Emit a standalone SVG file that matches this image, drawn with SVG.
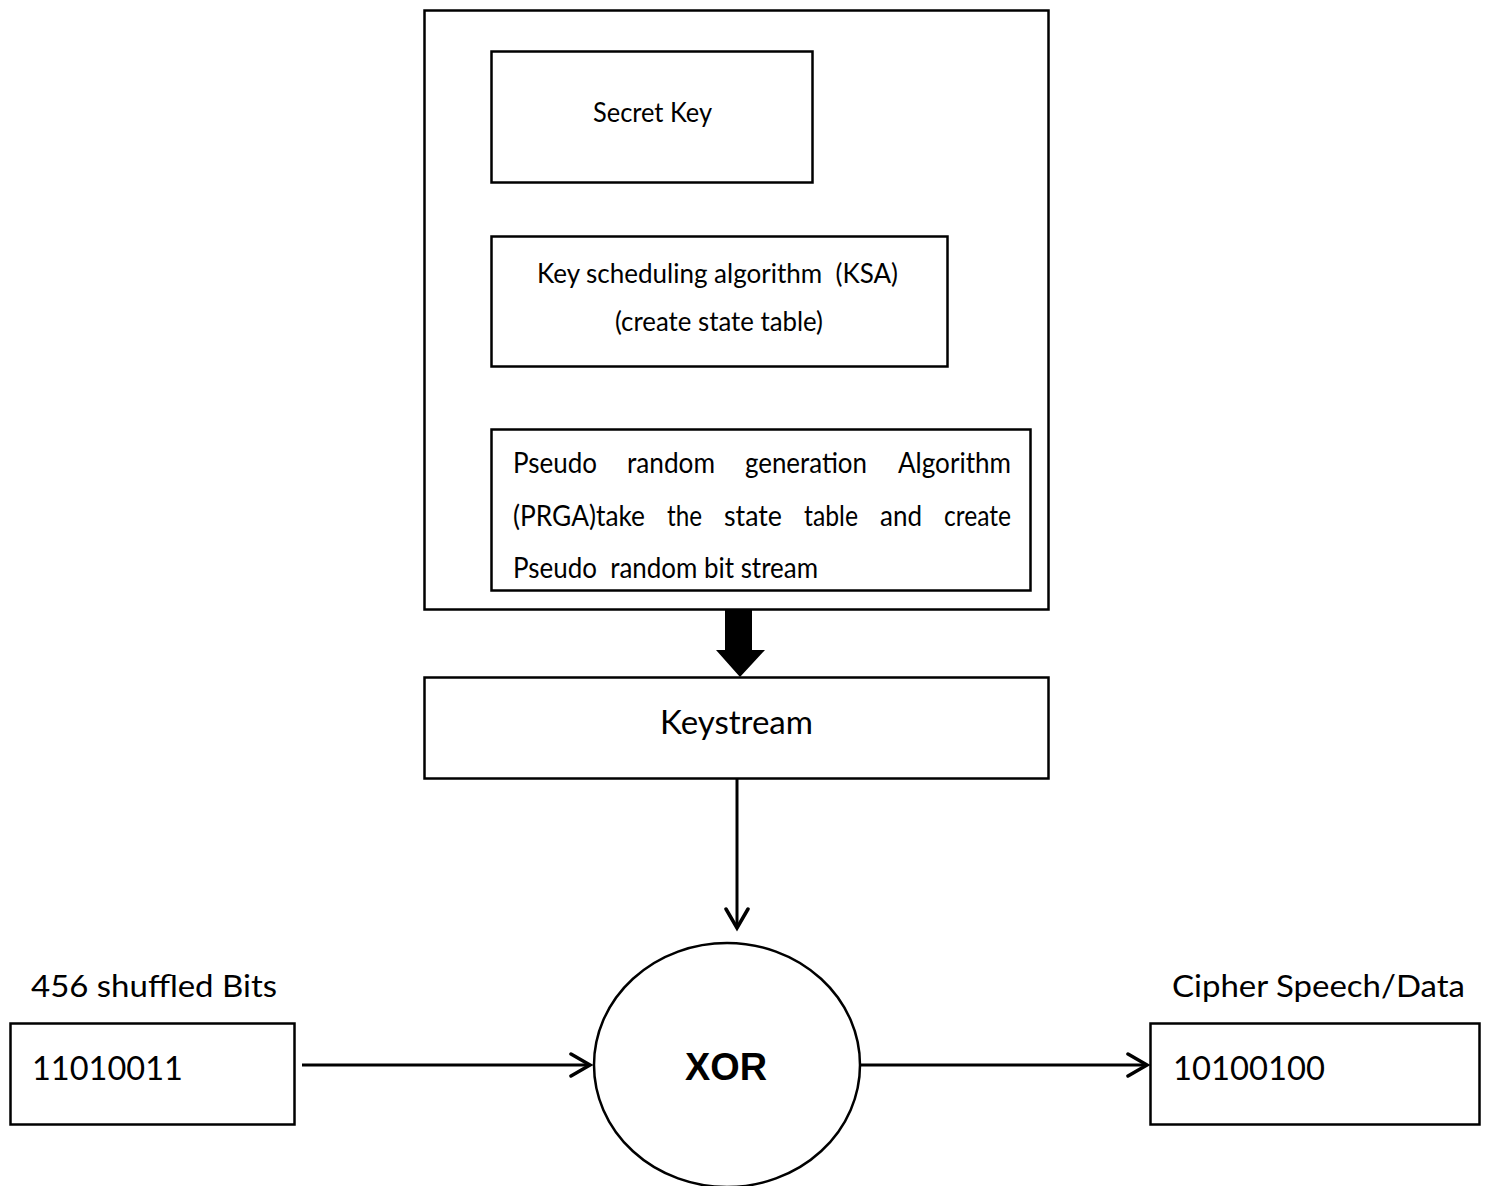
<svg xmlns="http://www.w3.org/2000/svg" width="1486" height="1186" viewBox="0 0 1486 1186">
  <style>
    .box { fill: #fff; stroke: #000; stroke-width: 2.5; }
    .t { font-family: Lato, "Open Sans", "Liberation Sans", sans-serif; fill: #000; }
    .line { stroke: #000; stroke-width: 3; fill: none; }
  </style>
  <defs>
    <marker id="open" markerWidth="26" markerHeight="28" refX="22" refY="13" orient="auto" markerUnits="userSpaceOnUse" viewBox="0 0 26 28">
      <path d="M3,2 L22,13 L3,24" fill="none" stroke="#000" stroke-width="3.5" stroke-linecap="round" stroke-linejoin="miter"/>
    </marker>
  </defs>
  <rect width="1486" height="1186" fill="#fff"/>

  <!-- RC4 generator block -->
  <g id="rc4">
    <rect class="box" x="424.5" y="10.5" width="624" height="599"/>
  </g>
  <g id="secret-key">
    <rect class="box" x="491.5" y="51.5" width="321" height="131"/>
    <text class="t" x="593" y="122" font-size="26" textLength="119" lengthAdjust="spacingAndGlyphs">Secret Key</text>
  </g>
  <g id="ksa">
    <rect class="box" x="491.5" y="236.5" width="456" height="130"/>
    <text class="t" x="537" y="283" font-size="26" textLength="361" lengthAdjust="spacingAndGlyphs" xml:space="preserve">Key scheduling algorithm  (KSA)</text>
    <text class="t" x="615" y="331" font-size="26" textLength="208" lengthAdjust="spacingAndGlyphs">(create state table)</text>
  </g>
  <g id="prga">
    <rect class="box" x="491.5" y="429.5" width="539" height="161"/>
    <!-- justified paragraph: words placed with equal gaps per line -->
    <g class="t" font-size="29">
      <text x="513" y="473" textLength="84" lengthAdjust="spacingAndGlyphs">Pseudo</text>
      <text x="627" y="473" textLength="88" lengthAdjust="spacingAndGlyphs">random</text>
      <text x="745" y="473" textLength="122" lengthAdjust="spacingAndGlyphs">generation</text>
      <text x="898" y="473" textLength="113" lengthAdjust="spacingAndGlyphs">Algorithm</text>
      <text x="513" y="526" textLength="132" lengthAdjust="spacingAndGlyphs">(PRGA)take</text>
      <text x="667" y="526" textLength="35" lengthAdjust="spacingAndGlyphs">the</text>
      <text x="724" y="526" textLength="58" lengthAdjust="spacingAndGlyphs">state</text>
      <text x="804" y="526" textLength="54" lengthAdjust="spacingAndGlyphs">table</text>
      <text x="880" y="526" textLength="42" lengthAdjust="spacingAndGlyphs">and</text>
      <text x="944" y="526" textLength="67" lengthAdjust="spacingAndGlyphs">create</text>
      <text x="513" y="578" textLength="305" lengthAdjust="spacingAndGlyphs" xml:space="preserve">Pseudo  random bit stream</text>
    </g>
  </g>
  <g id="keystream">
    <rect class="box" x="424.5" y="677.5" width="624" height="101"/>
    <text class="t" x="660" y="734" font-size="32" textLength="153" lengthAdjust="spacingAndGlyphs">Keystream</text>
  </g>
  <g id="xor">
    <ellipse cx="727" cy="1065" rx="133" ry="122" fill="#fff" stroke="#000" stroke-width="2.5"/>
    <text x="685" y="1080" font-family="'Liberation Sans', Arial, sans-serif" font-weight="bold" font-size="38" textLength="82" lengthAdjust="spacingAndGlyphs">XOR</text>
  </g>
  <g id="input">
    <text class="t" x="31" y="997" font-size="30" textLength="246" lengthAdjust="spacingAndGlyphs">456 shuffled Bits</text>
    <rect class="box" x="10.5" y="1023.5" width="284" height="101"/>
    <text class="t" x="32" y="1080" font-size="32" textLength="151" lengthAdjust="spacingAndGlyphs">11010011</text>
  </g>
  <g id="output">
    <text class="t" x="1172" y="997" font-size="30" textLength="293" lengthAdjust="spacingAndGlyphs">Cipher Speech/Data</text>
    <rect class="box" x="1150.5" y="1023.5" width="329" height="101"/>
    <text class="t" x="1173" y="1080" font-size="32" textLength="152" lengthAdjust="spacingAndGlyphs">10100100</text>
  </g>

  <!-- connectors -->
  <g id="connectors">
    <polygon points="725,610 752,610 752,650 765,650 740,677 716,650 725,650" fill="#000"/>
    <line class="line" x1="737" y1="779" x2="737" y2="928" marker-end="url(#open)"/>
    <line class="line" x1="302" y1="1065" x2="590" y2="1065" marker-end="url(#open)"/>
    <line class="line" x1="861" y1="1065" x2="1147" y2="1065" marker-end="url(#open)"/>
  </g>
</svg>
